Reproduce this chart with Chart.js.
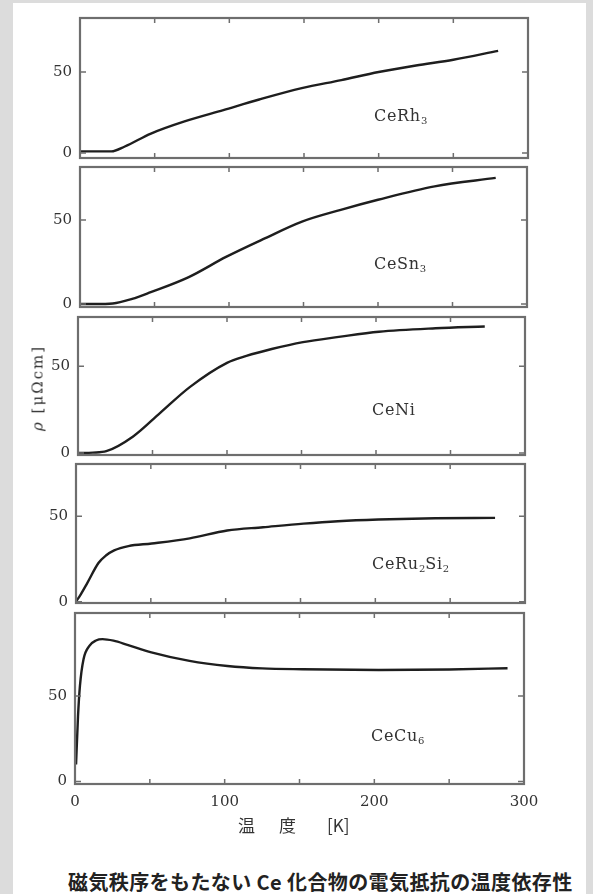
<!DOCTYPE html>
<html>
<head>
<meta charset="utf-8">
<script src="https://cdn.jsdelivr.net/npm/chart.js@4.4.0/dist/chart.umd.min.js"></script>
<style>
  html, body { margin: 0; padding: 0; }
  body { width: 593px; height: 894px; background: #dcdcdc; position: relative; overflow: hidden; }
  #sheet { position: absolute; left: 13px; top: 3px; width: 573px; height: 891px; background: #fff; }
  .panel { position: absolute; }
  .txt { position: absolute; color: #333; white-space: pre; line-height: 1; }
  .comp { font-family: "DejaVu Serif", serif; font-size: 16px; letter-spacing: 0.7px; transform: translateY(-50%); }
  .comp sub { font-size: 10px; vertical-align: -3px; letter-spacing: 0; }
  .cjk { font-family: "Noto Sans CJK JP", sans-serif; }
</style>
</head>
<body>
<div id="sheet"></div>

<div class="panel" id="wrap0"><canvas id="c0"></canvas></div>
<div class="panel" id="wrap1"><canvas id="c1"></canvas></div>
<div class="panel" id="wrap2"><canvas id="c2"></canvas></div>
<div class="panel" id="wrap3"><canvas id="c3"></canvas></div>
<div class="panel" id="wrap4"><canvas id="c4"></canvas></div>

<div class="txt comp" style="left:374px; top:117px;">CeRh<sub>3</sub></div>
<div class="txt comp" style="left:374px; top:265px;">CeSn<sub>3</sub></div>
<div class="txt comp" style="left:372px; top:410px;">CeNi</div>
<div class="txt comp" style="left:372px; top:565px;">CeRu<sub>2</sub>Si<sub>2</sub></div>
<div class="txt comp" style="left:371px; top:737px;">CeCu<sub>6</sub></div>

<div class="txt" style="left:38px; top:388px; font-family:'DejaVu Serif',serif; font-size:15px; letter-spacing:2px; transform:translate(-50%,-50%) rotate(-90deg);"><i>ρ</i> [μΩcm]</div>

<div class="txt cjk" style="left:238px; top:816px; font-size:17px;">温</div>
<div class="txt cjk" style="left:279px; top:816px; font-size:17px;">度</div>
<div class="txt cjk" style="left:327px; top:816px; font-size:17px;">[K]</div>

<div class="txt cjk" style="left:68px; top:872px; font-size:20px; font-weight:700; letter-spacing:0.4px; color:#222;">磁気秩序をもたない Ce 化合物の電気抵抗の温度依存性</div>

<script>
// temperature (K) and resistivity (μΩcm)
const rh3T   = [0, 10, 21, 30, 47.5, 70, 96, 120, 148.5, 175, 200, 225, 250, 280];
const rh3Rho = [1, 1, 1, 4, 12, 19.5, 26.5, 33, 40, 45, 50, 54, 57.5, 63];

const sn3T   = [0, 10, 22, 35, 47.5, 73, 98, 124, 149, 175, 200, 238, 279];
const sn3Rho = [0, 0, 0.3, 3, 7, 16, 28, 39, 49, 56, 62, 70, 75];

const niT   = [0, 10, 19, 37, 55, 75, 100, 113, 130, 151, 175, 202, 240, 273];
const niRho = [0, 0.2, 1, 9.5, 23, 38, 52, 56, 60, 64, 67, 70, 72, 73];

const ru2si2T   = [0, 3, 7.6, 15, 20, 25.5, 35, 50.6, 76, 101, 125, 152, 175, 202, 240, 280];
const ru2si2Rho = [0, 4, 11, 22.6, 27, 30, 32.5, 34, 37, 41.6, 43.5, 45.6, 47, 48, 48.8, 49];

const cu6T   = [0.7, 2, 3.3, 5.7, 9.6, 14, 18.4, 25.7, 35, 51, 76.5, 101.8, 125, 152, 203, 250, 289];
const cu6Rho = [10, 38, 56, 71.6, 79.4, 82.5, 83.3, 82.4, 80, 75.6, 70.6, 67.6, 66.2, 65.7, 65.3, 65.6, 66.3];

const xTickLabels = [0, 100, 200, 300];
const yTickLabels = [0, 50];
const xMarks = [50, 100, 150, 200, 250];
const yMarks = [0, 50, 100];

// panel frames on the page (scan is a little skewed)
const panels = [
  { T: rh3T,    rho: rh3Rho,    box: [80, 18, 528, 158],  yMin: -3.1, yMax: 83.3 },
  { T: sn3T,    rho: sn3Rho,    box: [80, 167, 527, 307], yMin: -1.8, yMax: 81.5 },
  { T: niT,     rho: niRho,     box: [78, 317, 525, 455], yMin: -1.2, yMax: 78.5 },
  { T: ru2si2T, rho: ru2si2Rho, box: [76, 464, 525, 603], yMin: -0.8, yMax: 80.5 },
  { T: cu6T,    rho: cu6Rho,    box: [75, 613, 524, 784], yMin: -1.4, yMax: 98.6 }
];

const Y_W = 40, PAD = 4, X_H = 30, R_LAST = 24;
const frameColor = '#6e6e6e';

const framePlugin = {
  id: 'frame',
  afterDraw(chart) {
    const { ctx, chartArea: a, scales: { x, y } } = chart;
    ctx.save();
    ctx.strokeStyle = frameColor;
    ctx.lineWidth = 1.5;
    ctx.beginPath();
    xMarks.forEach(v => {
      const px = x.getPixelForValue(v);
      ctx.moveTo(px, a.top); ctx.lineTo(px, a.top + 5);
      ctx.moveTo(px, a.bottom); ctx.lineTo(px, a.bottom - 5);
    });
    yMarks.forEach(v => {
      if (v < y.min || v > y.max) return;
      const py = y.getPixelForValue(v);
      ctx.moveTo(a.left, py); ctx.lineTo(a.left + 6, py);
      ctx.moveTo(a.right, py); ctx.lineTo(a.right - 6, py);
    });
    ctx.stroke();
    ctx.lineWidth = 2.2;
    ctx.strokeRect(a.left, a.top, a.right - a.left, a.bottom - a.top);
    ctx.restore();
  }
};

const noPad = s => { s.paddingTop = 0; s.paddingBottom = 0; s.paddingLeft = 0; s.paddingRight = 0; };

panels.forEach((p, i) => {
  const last = i === panels.length - 1;
  const [l, t, r, b] = p.box;
  const rightPad = last ? R_LAST : PAD;
  const wrap = document.getElementById('wrap' + i);
  const w = (r - l) + Y_W + rightPad;
  const h = (b - t) + PAD + (last ? X_H : PAD);
  wrap.style.left = (l - Y_W) + 'px';
  wrap.style.top = (t - PAD) + 'px';
  wrap.style.width = w + 'px';
  wrap.style.height = h + 'px';

  new Chart(document.getElementById('c' + i), {
    type: 'line',
    data: {
      datasets: [{
        data: p.T.map((T, k) => ({ x: T, y: p.rho[k] })),
        borderColor: '#1e1e1e',
        borderWidth: 2.4,
        pointRadius: 0,
        cubicInterpolationMode: 'monotone',
        fill: false
      }]
    },
    options: {
      responsive: true,
      maintainAspectRatio: false,
      animation: false,
      layout: { padding: { left: 0, top: PAD, right: rightPad, bottom: last ? 0 : PAD } },
      plugins: { legend: { display: false }, tooltip: { enabled: false } },
      scales: {
        x: {
          type: 'linear', min: 0, max: 300,
          grid: { display: false, drawTicks: false },
          border: { display: false },
          afterBuildTicks: s => { s.ticks = xTickLabels.map(v => ({ value: v })); },
          afterFit: s => { s.height = last ? X_H : 0; noPad(s); },
          ticks: {
            display: last,
            padding: 9,
            maxRotation: 0,
            autoSkip: false,
            color: '#333',
            font: { family: 'DejaVu Serif', size: 15 }
          }
        },
        y: {
          min: p.yMin, max: p.yMax,
          grid: { display: false, drawTicks: false },
          border: { display: false },
          afterBuildTicks: s => { s.ticks = yTickLabels.map(v => ({ value: v })); },
          afterFit: s => { s.width = Y_W; noPad(s); },
          ticks: {
            padding: 8,
            color: '#333',
            font: { family: 'DejaVu Serif', size: 15 }
          }
        }
      }
    },
    plugins: [framePlugin]
  });
});
</script>
</body>
</html>
